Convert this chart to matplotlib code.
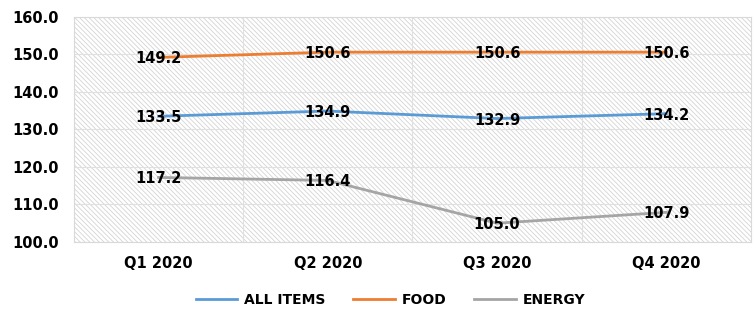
import matplotlib.pyplot as plt
from matplotlib.patches import Rectangle

quarters = ["Q1 2020", "Q2 2020", "Q3 2020", "Q4 2020"]
all_items = [133.5, 134.9, 132.9, 134.2]
food = [149.2, 150.6, 150.6, 150.6]
energy = [117.2, 116.4, 105.0, 107.9]

series = [("ALL ITEMS", all_items, "#5B9BD5"),
          ("FOOD", food, "#ED7D31"),
          ("ENERGY", energy, "#A5A5A5")]

plt.rcParams["font.family"] = "DejaVu Sans"
plt.rcParams["hatch.color"] = "#d4d4d4"
plt.rcParams["hatch.linewidth"] = 0.6

fig = plt.figure(figsize=(7.54, 3.13), dpi=100)
ax = fig.add_axes([0.098, 0.227, 0.898, 0.719])

# hatched plot area background
ax.add_patch(Rectangle((0, 0), 1, 1, transform=ax.transAxes, facecolor="white",
                       edgecolor="#d4d4d4", hatch="\\" * 7, linewidth=0, zorder=0))

x = list(range(len(quarters)))
for name, vals, col in series:
    ax.plot(x, vals, color=col, linewidth=2.0, label=name, zorder=3)
    for xi, v in zip(x, vals):
        ax.text(xi, v - 0.4, f"{v:.1f}", ha="center", va="center", fontsize=10.5,
                fontweight="bold", color="black", zorder=4)

ax.set_xlim(-0.5, 3.5)
ax.set_ylim(100, 160)
ax.set_yticks(range(100, 161, 10))
ax.set_yticklabels([f"{t:.1f}" for t in range(100, 161, 10)], fontsize=10.5, fontweight="bold")
ax.set_xticks(x)
ax.set_xticklabels(quarters, fontsize=10.5, fontweight="bold")
ax.tick_params(axis="y", length=0, pad=11)
ax.tick_params(axis="x", length=0, pad=10)

for b in [0.5, 1.5, 2.5]:
    ax.axvline(b, color="#e0e0e0", linewidth=0.8, zorder=1)
ax.grid(axis="y", color="#e0e0e0", linewidth=0.8, zorder=1)
ax.set_axisbelow(True)
for s in ax.spines.values():
    s.set_color("#d9d9d9")
    s.set_linewidth(0.8)

leg = fig.legend(loc="center", bbox_to_anchor=(0.518, 0.042), ncol=3, frameon=False,
                 prop={"size": 10, "weight": "bold"}, handlelength=3.0,
                 handletextpad=0.5, columnspacing=2.0)

plt.savefig("out.png", dpi=100)
plt.close()
